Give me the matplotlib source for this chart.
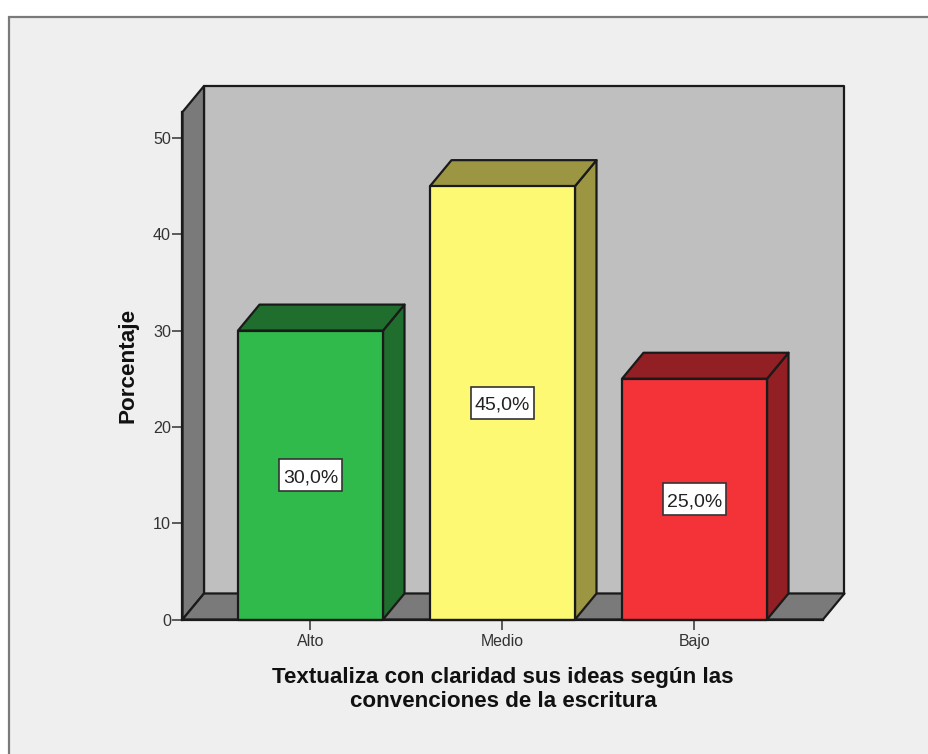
import matplotlib
matplotlib.use("Agg")
import matplotlib.pyplot as plt
from matplotlib.patches import Polygon, Rectangle

categories = ["Alto", "Medio", "Bajo"]
values = [30.0, 45.0, 25.0]
labels = ["30,0%", "45,0%", "25,0%"]
yticks = [0, 10, 20, 30, 40, 50]
front_colors = ["#2FBA4B", "#FDF973", "#F43339"]
side_colors = ["#1F6E2E", "#9C9643", "#911F24"]

W, H = 929, 754
plt.rcParams["font.family"] = ["Liberation Sans", "DejaVu Sans"]
fig = plt.figure(figsize=(W / 100, H / 100), dpi=100, facecolor="white")

# panel background with grey border
fig.add_artist(Rectangle((9.5 / W, -0.01), 1.1, 1 - 17.5 / H + 0.01, transform=fig.transFigure,
                         facecolor="#EFEFEF", edgecolor="#7A7A7A", linewidth=1.6, zorder=-5))

L, R, B, T = 182.5, 823.0, 619.5, 112.0
ax = fig.add_axes([L / W, 1 - B / H, (R - L) / W, (B - T) / H])
ax.patch.set_visible(False)
px_x, px_y = 192.0, 9.63
ax.set_xlim((L - 310.5) / px_x, (R - 310.5) / px_x)
ax.set_ylim(0, (B - T) / px_y)
dx, dy = 21.5 / px_x, 26.0 / px_y
x0, x1, y1 = ax.get_xlim()[0], ax.get_xlim()[1], ax.get_ylim()[1]
edge = "#1A1A1A"
lw = 1.6

def poly(pts, fc, z):
    ax.add_patch(Polygon(pts, closed=True, facecolor=fc, edgecolor=edge, linewidth=lw,
                         clip_on=False, zorder=z, joinstyle="round"))

# walls
poly([(x0 + dx, dy), (x1 + dx, dy), (x1 + dx, y1 + dy), (x0 + dx, y1 + dy)], "#BFBFBF", 1)
poly([(x0, 0), (x0 + dx, dy), (x0 + dx, y1 + dy), (x0, y1)], "#7A7A7A", 1)
poly([(x0, 0), (x1, 0), (x1 + dx, dy), (x0 + dx, dy)], "#7A7A7A", 1)

# bars
w = 145.0 / px_x
box_w, box_h = 63.0 / px_x, 32.0 / px_y
for i, v in enumerate(values):
    l, r = i - w / 2, i + w / 2
    poly([(r, 0), (r + dx, dy), (r + dx, v + dy), (r, v)], side_colors[i], 2)
    poly([(l, v), (r, v), (r + dx, v + dy), (l + dx, v + dy)], side_colors[i], 2)
    poly([(l, 0), (r, 0), (r, v), (l, v)], front_colors[i], 3)
    ax.add_patch(Rectangle((i - box_w / 2, v / 2 - box_h / 2), box_w, box_h, facecolor="white",
                           edgecolor="#333333", linewidth=1.2, zorder=5))
    ax.text(i, v / 2 - 2.5 / px_y, labels[i], ha="center", va="center", fontsize=14,
            color="#222222", zorder=6)

for s in ["top", "right"]:
    ax.spines[s].set_visible(False)
for s in ["left", "bottom"]:
    ax.spines[s].set_linewidth(lw)
    ax.spines[s].set_color(edge)
    ax.spines[s].set_zorder(4)
ax.set_xticks(range(len(categories)), categories)
ax.set_yticks(yticks)
ax.tick_params(axis="y", length=7.2, width=1.1, color="#333333", labelsize=11.6, labelcolor="#333333", pad=1)
ax.tick_params(axis="x", length=7.2, width=1.1, color="#333333", labelsize=11.4, labelcolor="#333333", pad=3)

fig.text(128 / W, 1 - 365 / H, "Porcentaje", rotation=90, ha="center", va="center",
         fontsize=16.2, fontweight="bold", color="#111111")
fig.text(503 / W, 1 - 689.5 / H, "Textualiza con claridad sus ideas según las\nconvenciones de la escritura",
         ha="center", va="center", fontsize=16.1, fontweight="bold", color="#111111", linespacing=1.18)

fig.savefig("out.png", dpi=100, facecolor="white")
